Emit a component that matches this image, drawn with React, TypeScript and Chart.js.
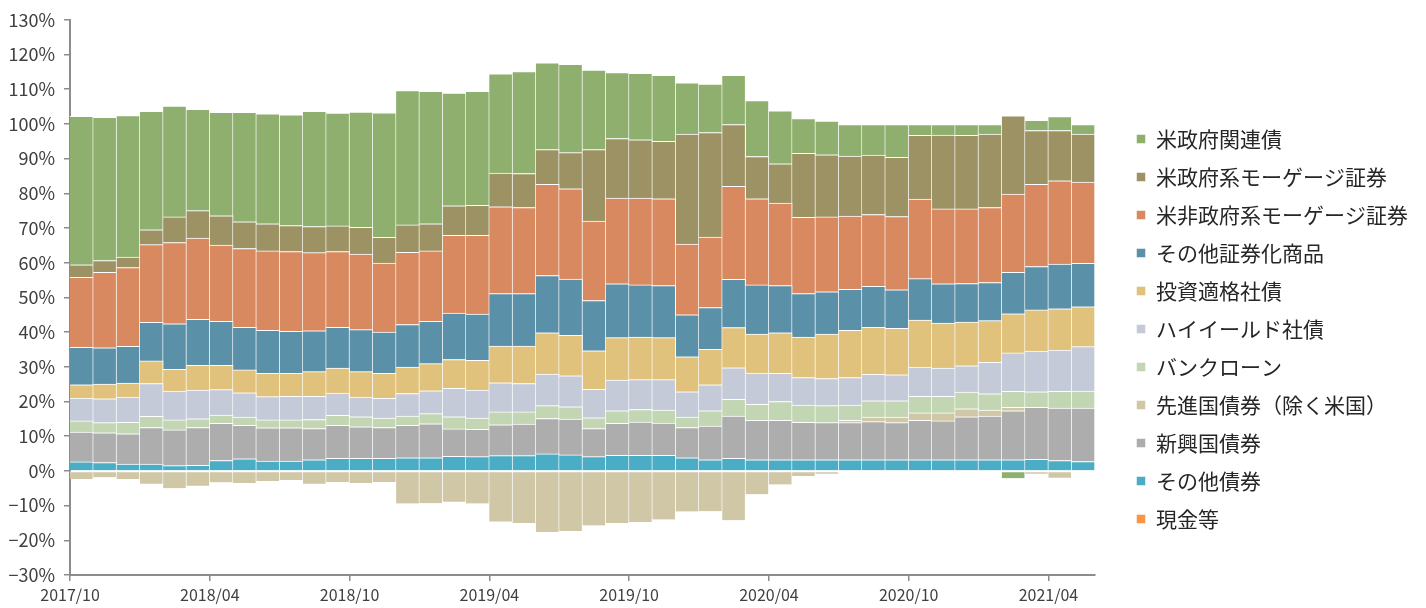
import React, { useEffect, useRef } from 'react';
import { Chart, registerables } from 'chart.js';
Chart.register(...registerables);

const months = [
  '2017/10','2017/11','2017/12','2018/01','2018/02','2018/03','2018/04','2018/05','2018/06','2018/07','2018/08','2018/09',
  '2018/10','2018/11','2018/12','2019/01','2019/02','2019/03','2019/04','2019/05','2019/06','2019/07','2019/08','2019/09',
  '2019/10','2019/11','2019/12','2020/01','2020/02','2020/03','2020/04','2020/05','2020/06','2020/07','2020/08','2020/09',
  '2020/10','2020/11','2020/12','2021/01','2021/02','2021/03','2021/04','2021/05'
];

const cash = [0,0,0,0,0,0,0,0,0,0,0,0,0,0,0,0,0,0,0,0,0,0,0,0,0,0,0,0,0,0,0,0,0,0,0,0,0,0,0,0,0,0,0,0];
const otherBonds = [2.6,2.4,2.0,2.0,1.5,1.6,3.0,3.5,2.8,2.8,3.2,3.6,3.6,3.6,3.8,3.8,4.2,4.1,4.4,4.4,4.9,4.6,4.1,4.5,4.5,4.5,3.8,3.2,3.6,3.2,3.2,3.2,3.2,3.2,3.2,3.2,3.2,3.2,3.2,3.2,3.2,3.3,3.0,2.7];
const emBonds = [8.6,8.6,8.7,10.5,10.3,10.9,10.7,9.6,9.6,9.6,9.0,9.5,9.1,8.9,9.3,9.8,7.9,7.9,8.9,9.1,10.2,10.3,8.1,9.2,9.6,9.3,8.7,9.7,12.2,11.4,11.4,10.8,10.7,10.7,11.0,10.7,11.4,11.2,12.4,12.6,14.1,15.0,15.1,15.4];
const dmBonds = [-2.3,-1.8,-2.3,-3.7,-5.0,-4.3,-3.3,-3.5,-2.9,-2.6,-3.7,-3.2,-3.5,-3.2,-9.4,-9.3,-8.9,-9.4,-14.6,-15.0,-17.6,-17.3,-15.7,-15.0,-14.7,-14.0,-11.7,-11.6,-14.2,-6.7,-3.9,-1.5,-0.8,0.7,1.3,1.6,2.1,2.3,2.3,1.7,1.0,-0.8,-2.0,0];
const bankLoans = [3.2,2.9,3.3,3.2,2.9,2.5,2.4,2.4,2.3,2.3,2.6,2.9,2.9,2.7,2.7,2.9,3.5,3.2,3.7,3.5,3.7,3.6,3.1,3.6,3.6,3.7,3.0,4.4,4.8,4.6,5.4,5.0,4.9,4.4,4.7,4.7,4.8,4.8,4.8,4.7,4.6,4.5,4.8,4.9];
const highYield = [6.6,6.9,7.3,9.5,8.3,8.3,7.3,7.0,6.7,6.8,6.7,6.4,5.7,5.7,6.5,6.6,8.2,8.1,8.4,8.2,9.1,8.9,8.2,8.9,8.6,8.8,7.3,7.5,9.1,9.0,8.1,7.9,7.8,7.9,7.6,7.5,8.4,8.1,7.6,9.1,11.1,11.7,11.9,12.8];
const investGrade = [3.8,4.2,4.0,6.5,6.3,7.1,7.0,6.6,6.7,6.6,7.1,7.2,7.3,7.2,7.6,7.8,8.3,8.6,10.6,10.8,11.9,11.7,11.1,12.2,12.3,12.1,10.1,10.2,11.6,11.2,11.7,11.7,12.8,13.6,13.6,13.4,13.6,13.0,12.6,12.0,11.3,11.9,11.9,11.5];
const otherSecuritized = [10.8,10.5,10.6,11.1,13.1,13.3,12.7,12.3,12.4,12.1,11.8,11.8,12.1,11.9,12.3,12.2,13.4,13.3,15.1,15.1,16.5,16.2,14.5,15.5,15.0,15.0,12.1,12.1,13.9,14.2,13.6,12.5,12.2,11.8,11.8,11.1,11.9,11.3,11.1,11.0,11.9,12.5,12.9,12.5];
const nonAgencyMbs = [20.2,21.7,22.7,22.4,23.4,23.4,22.0,22.7,22.9,23.0,22.5,21.8,21.8,19.9,20.8,20.3,22.4,22.7,25.0,24.8,26.3,26.0,22.9,24.7,25.0,25.0,20.4,20.3,26.8,24.8,23.8,22.0,21.6,21.1,20.7,21.1,22.9,21.6,21.5,21.6,22.6,23.7,24.0,23.4];
const agencyMbs = [3.6,3.4,3.0,4.3,7.4,7.9,8.4,7.7,7.8,7.5,7.5,7.4,7.7,7.4,7.9,7.8,8.5,8.6,9.7,9.8,10.0,10.4,20.6,17.2,16.8,16.6,31.7,30.1,17.8,12.2,11.3,18.4,17.9,17.3,17.1,17.1,18.4,21.3,21.2,21.2,22.5,15.5,14.5,13.9];
const agencyDebt = [42.8,41.3,40.8,34.1,31.9,29.2,29.8,31.5,31.7,31.9,33.2,32.5,33.2,35.9,38.7,38.2,32.5,32.9,28.6,29.4,25.0,25.5,22.9,19.0,19.2,19.0,14.7,14.0,14.2,16.1,15.3,10.0,9.7,9.1,8.8,9.4,3.1,3.0,3.1,2.7,-2.1,2.9,4.0,2.7];

const seriesNames = ['現金等','その他債券','新興国債券','先進国債券（除く米国）','バンクローン','ハイイールド社債','投資適格社債','その他証券化商品','米非政府系モーゲージ証券','米政府系モーゲージ証券','米政府関連債'];
const seriesColors = ['#F79646','#4BACC6','#ADADAD','#CFC7A6','#C3D6B3','#C5CAD9','#E1C27C','#5B90A9','#D8895F','#9C9264','#8FAF6E'];
const seriesData = [cash, otherBonds, emBonds, dmBonds, bankLoans, highYield, investGrade, otherSecuritized, nonAgencyMbs, agencyMbs, agencyDebt];

const FONT = "'Noto Sans CJK JP', 'Noto Sans', sans-serif";
const AXIS = '#8c8c8c';

export default function App() {
  const ref = useRef<HTMLCanvasElement>(null);
  useEffect(() => {
    const chart = new Chart(ref.current as HTMLCanvasElement, {
      type: 'bar',
      data: {
        labels: months,
        datasets: seriesData.map((d, i) => ({
          label: seriesNames[i],
          data: d,
          backgroundColor: seriesColors[i],
          borderColor: '#ffffff',
          borderWidth: { top: 1, right: 1, bottom: 0, left: 0 },
          borderSkipped: false,
          barPercentage: 1,
          categoryPercentage: 1,
        })),
      },
      options: {
        animation: false,
        responsive: true,
        maintainAspectRatio: false,
        layout: { padding: { top: 17, right: 8, left: 0, bottom: 0 } },
        plugins: {
          tooltip: { enabled: false },
          legend: {
            position: 'right',
            reverse: true,
            title: { display: true, text: ' ', font: { size: 10 }, padding: { top: 10, bottom: 11 } },
            labels: {
              boxWidth: 9,
              boxHeight: 9,
              padding: 17,
              color: '#262626',
              font: { family: FONT, size: 21 },
            },
          },
        },
        scales: {
          x: {
            stacked: true,
            offset: true,
            afterFit: (s: any) => { s.height = 33; },
            grid: {
              offset: true,
              drawOnChartArea: false,
              drawTicks: true,
              tickLength: 6,
              lineWidth: 1.5,
              color: (c: any) => (c.index % 6 === 0 ? AXIS : 'rgba(0,0,0,0)'),
            },
            border: { color: AXIS, width: 2 },
            ticks: {
              autoSkip: false,
              maxRotation: 0,
              minRotation: 0,
              padding: 4,
              labelOffset: -11.6,
              color: '#404040',
              font: { family: FONT, size: 16 },
              callback: (_v: any, i: number) => (i % 6 === 0 ? months[i] : ''),
            },
          },
          y: {
            stacked: true,
            min: -30,
            max: 130,
            afterFit: (s: any) => { s.width = 70; },
            grid: {
              drawOnChartArea: false,
              drawTicks: true,
              tickLength: 6,
              lineWidth: 1.5,
              color: AXIS,
            },
            border: { color: AXIS, width: 2 },
            ticks: {
              stepSize: 10,
              padding: 9,
              color: '#404040',
              font: { family: FONT, size: 18 },
              callback: (v: any) => (v < 0 ? '\u2212' + Math.abs(v) : String(v)) + '%',
            },
          },
          spacer: {
            type: 'linear',
            position: 'right',
            display: false,
            afterFit: (s: any) => { s.width = 24.5; },
          },
        },
      },
    } as any);
    return () => chart.destroy();
  }, []);
  return (
    <div style={{ position: 'fixed', left: 0, top: 0, width: 1426, height: 608, background: '#ffffff' }}>
      <canvas ref={ref} />
    </div>
  );
}
